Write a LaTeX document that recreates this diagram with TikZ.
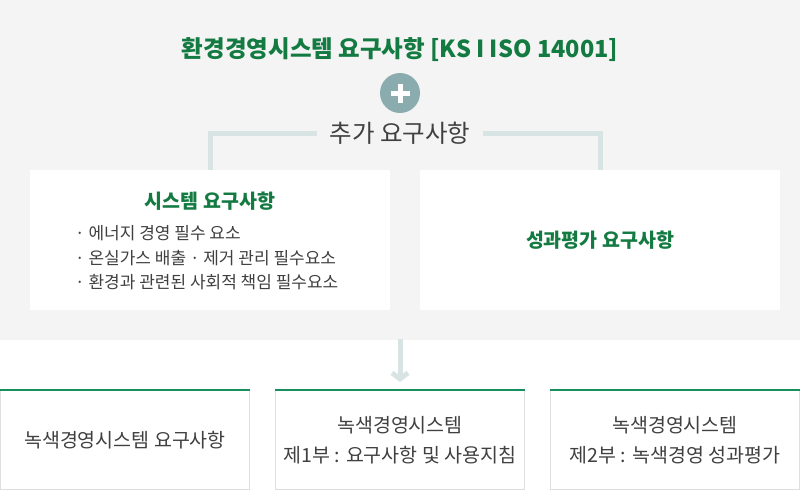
\documentclass[tikz,border=0pt]{standalone}
\usepackage{fontspec}
\setmainfont{Noto Sans CJK KR}
\usepackage{tikz}
\usetikzlibrary{arrows.meta}
\definecolor{kgreen}{RGB}{19,122,66}
\definecolor{topgreen}{RGB}{22,143,92}
\definecolor{pale}{RGB}{216,227,227}
\definecolor{bggray}{RGB}{244,244,244}
\definecolor{plusgray}{RGB}{138,172,175}
\definecolor{txtgray}{RGB}{64,64,64}
\definecolor{boxline}{RGB}{222,222,222}

\begin{document}
\begin{tikzpicture}[x=1pt,y=-1pt,
  whitebox/.style={fill=white,minimum width=360pt,minimum height=140pt,inner sep=0pt},
  partbox/.style={draw=boxline,line width=1pt,fill=white,minimum width=249pt,minimum height=99pt,inner sep=0pt,align=center,text=txtgray,font=\fontsize{19.5}{30}\selectfont},
  paleline/.style={draw=pale,line width=5pt},
  greentitle/.style={text=kgreen,font=\bfseries\fontsize{19.5}{22}\selectfont}]
\useasboundingbox (0,0) rectangle (800,490);
\fill[bggray] (0,0) rectangle (800,340);
\node[text=kgreen,font=\bfseries\fontsize{23.5}{26}\selectfont] (title) at (400,50) {환경경영시스템 요구사항 [KS I ISO 14001]};
\node[circle,fill=plusgray,minimum size=40pt,inner sep=0pt] (plus) at (400,93) {};
\draw[white,line width=5pt] ([xshift=-9.5pt]plus.center) -- ([xshift=9.5pt]plus.center);
\draw[white,line width=5pt] ([yshift=-9.5pt]plus.center) -- ([yshift=9.5pt]plus.center);
\node[minimum width=166pt,inner sep=0pt,text=txtgray,font=\fontsize{24.5}{26}\selectfont] (extra) at (400,133) {추가 요구사항};
\node[whitebox] (sysbox) at (210,240) {};
\node[whitebox] (perfbox) at (600,240) {};
\draw[paleline] (extra.west) -| (sysbox.north);
\draw[paleline] (extra.east) -| (perfbox.north);
\node[greentitle] (systitle) at (210,201) {시스템 요구사항};
\node[anchor=west,align=left,text=txtgray,font=\fontsize{17}{24.5}\selectfont,inner sep=0pt] (sysitems) at (75,258) {· 에너지 경영 필수 요소\\· 온실가스 배출 · 제거 관리 필수요소\\· 환경과 관련된 사회적 책임 필수요소};
\node[greentitle] (perftitle) at (perfbox.center) {성과평가 요구사항};
\node[partbox] (req) at (125,440) {녹색경영시스템 요구사항};
\node[partbox] (part1) at (400,440) {녹색경영시스템\\제1부 : 요구사항 및 사용지침};
\node[partbox] (part2) at (675,440) {녹색경영시스템\\제2부 : 녹색경영 성과평가};
\foreach \b in {req,part1,part2}
  \draw[topgreen,line width=2.5pt] (\b.north west) -- (\b.north east);
\coordinate (split) at (400,339);
\draw[paleline,-{Straight Barb[length=6pt,width=16pt]},shorten >=8pt] (split) -- (part1.north);
\end{tikzpicture}
\end{document}
